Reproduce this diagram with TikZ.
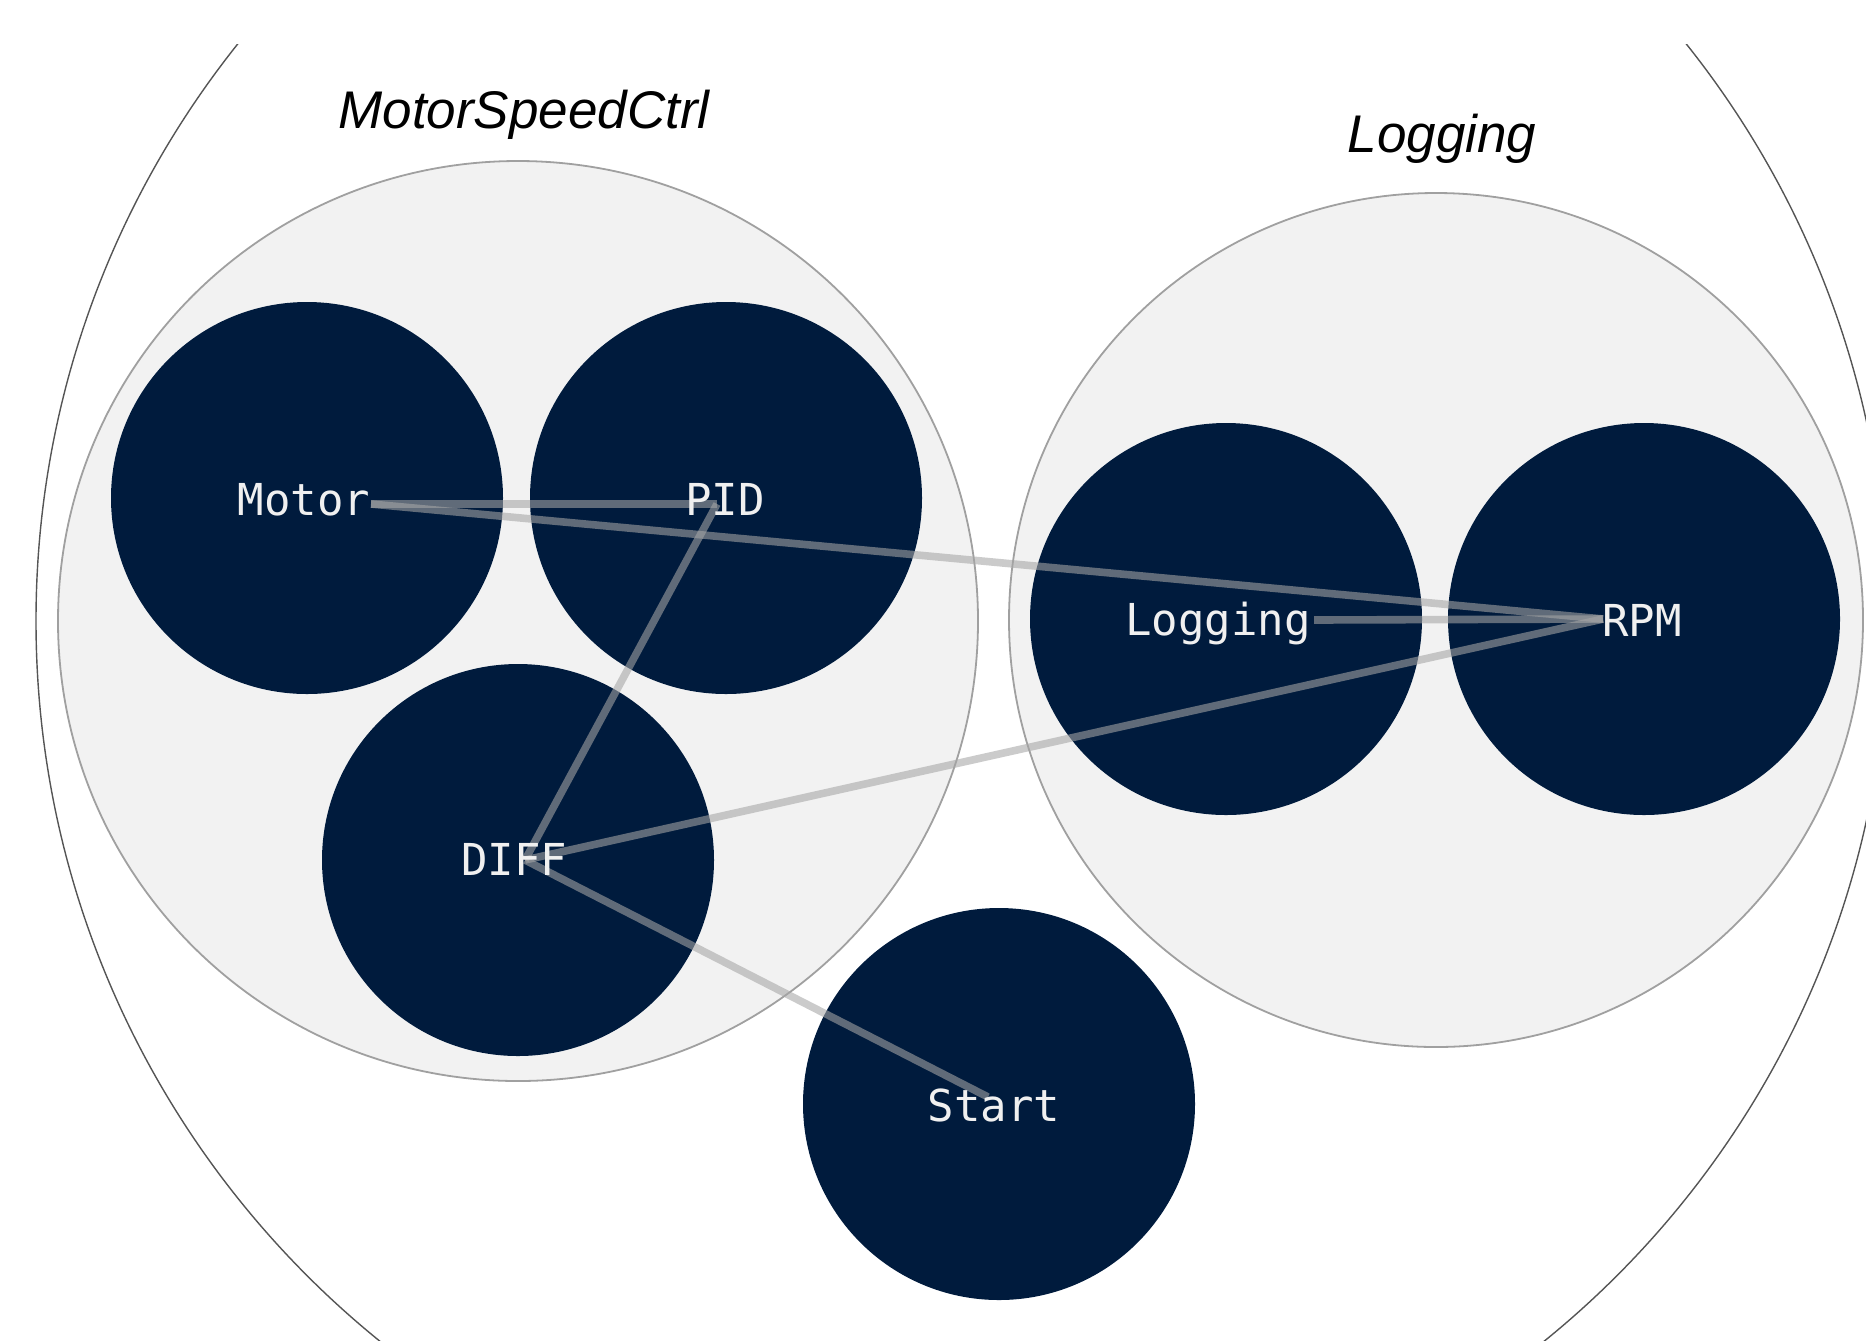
\documentclass[tikz,border=0pt]{standalone}
\usepackage{fontspec}
\setmainfont{Liberation Sans}
\newfontfamily\labelmono{DejaVu Sans Mono}
\definecolor{navy}{RGB}{0,27,61}
\definecolor{groupfill}{RGB}{242,242,242}
\definecolor{groupline}{RGB}{160,160,160}
\definecolor{ringline}{RGB}{85,85,85}
\definecolor{linkgray}{RGB}{166,166,166}
\definecolor{labelwhite}{RGB}{240,240,240}
\tikzset{
  outerring/.style={draw=ringline, line width=0.7pt},
  groupcircle/.style={circle, draw=groupline, line width=0.9pt, fill=groupfill, inner sep=0pt},
  nodecircle/.style={circle, fill=navy, draw=none, inner sep=0pt, minimum size=196pt},
  grouptitle/.style={anchor=base, inner sep=0pt, font=\fontsize{26.5}{30}\selectfont\itshape, text=black},
  nodelabel/.style={anchor=base, inner sep=0pt, font=\labelmono\fontsize{22}{26}\selectfont, text=labelwhite},
  link/.style={draw=linkgray, line width=3.8pt, draw opacity=0.58}
}
\begin{document}
\begin{tikzpicture}[x=0.5pt,y=-0.5pt]
\useasboundingbox (0,0) rectangle (1866,1340);
% outer ring
\begin{scope}
\clip (0,44) rectangle (1866,1340);
\draw[outerring] (962,621) circle[radius=926];
\end{scope}
% groups
\node[groupcircle, minimum size=460pt] (gMotor) at (518,621) {};
\node[groupcircle, minimum size=427pt] (gLog) at (1436,620) {};
\node[grouptitle] (tGMotor) at (524,128) {MotorSpeedCtrl};
\node[grouptitle] (tGLog) at (1442,152) {Logging};
% node circles
\node[nodecircle] (cMotor) at (307,498) {};
\node[nodecircle] (cPID) at (726,498) {};
\node[nodecircle] (cDIFF) at (518,860) {};
\node[nodecircle] (cLogging) at (1226,619) {};
\node[nodecircle] (cRPM) at (1644,619) {};
\node[nodecircle] (cStart) at (999,1104) {};
% link end points
\coordinate (pMotor) at (371,504);
\coordinate (pPID) at (717,504);
\coordinate (pDIFF) at (525,860);
\coordinate (pLogging) at (1314,620);
\coordinate (pRPM) at (1603,619);
\coordinate (pStart) at (988,1097);
% links
\draw[link] (pMotor) -- (pPID);
\draw[link] (pMotor) -- (pRPM);
\draw[link] (pPID) -- (pDIFF);
\draw[link] (pDIFF) -- (pRPM);
\draw[link] (pDIFF) -- (pStart);
\draw[link] (pLogging) -- (pRPM);
% labels
\node[nodelabel] (lMotor) at (304,515) {Motor};
\node[nodelabel] (lPID) at (725,515) {PID};
\node[nodelabel] (lDIFF) at (514,875) {DIFF};
\node[nodelabel] (lLogging) at (1218,635) {Logging};
\node[nodelabel] (lRPM) at (1642,636) {RPM};
\node[nodelabel] (lStart) at (994,1121) {Start};
\end{tikzpicture}
\end{document}
